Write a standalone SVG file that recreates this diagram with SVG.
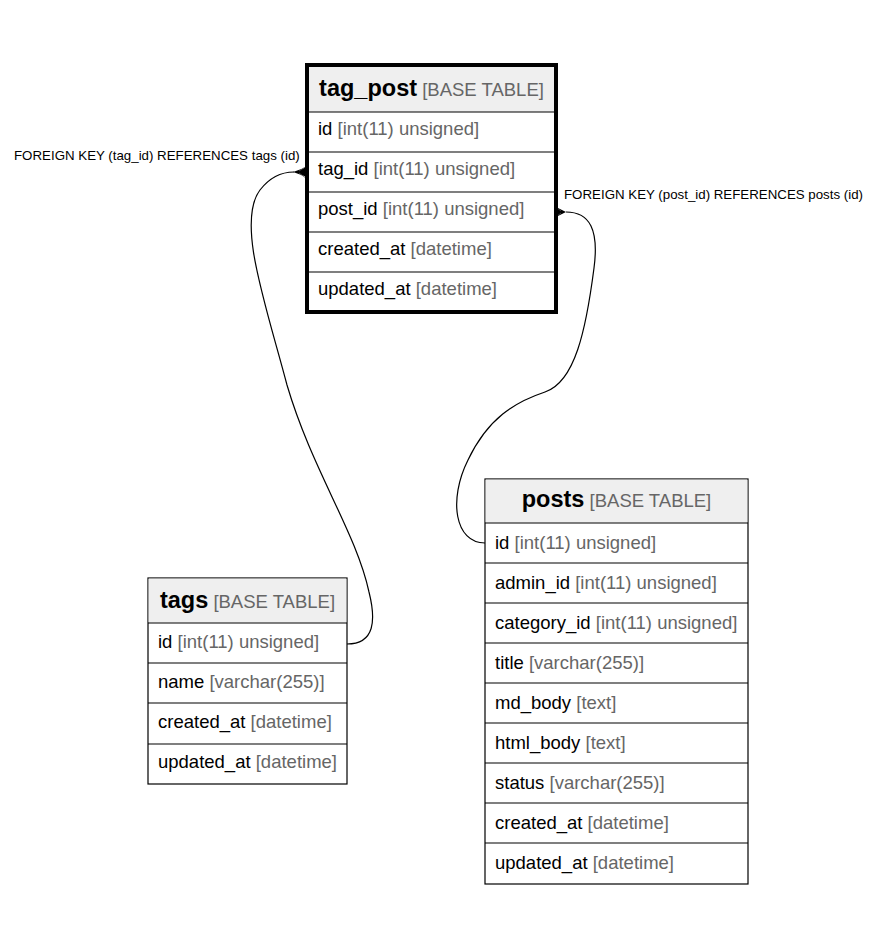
<svg xmlns="http://www.w3.org/2000/svg" width="877" height="947" viewBox="0 0 877 947">
  <style>
    .hdr { fill: #efefef; }
    .box { fill: #ffffff; stroke: #000000; stroke-width: 1.2; }
    .box-main { fill: none; stroke: #000000; stroke-width: 4; }
    .sep { stroke: #000000; stroke-width: 1.2; }
    .title { font-family: "Liberation Sans", Arial, sans-serif; font-size: 23.5px; font-weight: bold; fill: #000000; }
    .ttype { font-family: "Liberation Sans", Arial, sans-serif; font-size: 18.5px; font-weight: normal; fill: #666666; }
    .col { font-family: "Liberation Sans", Arial, sans-serif; font-size: 18.5px; fill: #000000; }
    .typ { fill: #666666; }
    .edge { fill: none; stroke: #000000; stroke-width: 1.2; }
    .crow { fill: #000000; stroke: none; }
    .toe { stroke: #555555; stroke-width: 0.8; fill: none; }
    .lbl { font-family: "Liberation Sans", Arial, sans-serif; font-size: 13.3px; fill: #000000; }
  </style>

  <rect width="877" height="947" fill="#ffffff"/>

  <!-- relationships -->
  <g id="connectors">
    <path class="edge" d="M347,644 C375,644 376,620 369,592 C356,532 312,470 287,385 C266,305 236,222 260,190 C270,177 282,172 294,172"/>
    <polygon class="crow" points="293,172 307,167 307,177"/>
    <path class="toe" d="M299,171 L310,164 M299,173 L310,181"/>
    <text class="lbl" x="14" y="160">FOREIGN KEY (tag_id) REFERENCES tags (id)</text>

    <path class="edge" d="M485,543 C455,543 448,500 468,460 C488,418 515,402 545,392 C575,382 586,330 594,268 C599,230 590,212 566,212"/>
    <polygon class="crow" points="566,212 556,207 556,217"/>
    <path class="toe" d="M561,211 L551,203 M561,213 L551,221"/>
    <text class="lbl" x="564" y="199">FOREIGN KEY (post_id) REFERENCES posts (id)</text>
  </g>

  <!-- tag_post table -->
  <g id="tag_post">
    <rect class="hdr" x="307" y="65" width="249" height="47"/>
    <rect x="307" y="112" width="249" height="200" fill="#ffffff"/>
    <line class="sep" x1="307" y1="112" x2="556" y2="112"/>
    <line class="sep" x1="307" y1="152" x2="556" y2="152"/>
    <line class="sep" x1="307" y1="192" x2="556" y2="192"/>
    <line class="sep" x1="307" y1="232" x2="556" y2="232"/>
    <line class="sep" x1="307" y1="272" x2="556" y2="272"/>
    <rect class="box-main" x="307" y="65" width="249" height="247"/>
    <text x="431.5" y="96" text-anchor="middle"><tspan class="title">tag_post</tspan><tspan class="ttype"> [BASE TABLE]</tspan></text>
    <text class="col" x="318" y="135">id <tspan class="typ">[int(11) unsigned]</tspan></text>
    <text class="col" x="318" y="175">tag_id <tspan class="typ">[int(11) unsigned]</tspan></text>
    <text class="col" x="318" y="215">post_id <tspan class="typ">[int(11) unsigned]</tspan></text>
    <text class="col" x="318" y="255">created_at <tspan class="typ">[datetime]</tspan></text>
    <text class="col" x="318" y="295">updated_at <tspan class="typ">[datetime]</tspan></text>
  </g>

  <!-- tags table -->
  <g id="tags">
    <rect class="box" x="148" y="578" width="199" height="206"/>
    <rect class="hdr" x="148.6" y="578.6" width="197.8" height="44"/>
    <line class="sep" x1="148" y1="623" x2="347" y2="623"/>
    <line class="sep" x1="148" y1="663" x2="347" y2="663"/>
    <line class="sep" x1="148" y1="703" x2="347" y2="703"/>
    <line class="sep" x1="148" y1="744" x2="347" y2="744"/>
    <text x="247.5" y="608" text-anchor="middle"><tspan class="title">tags</tspan><tspan class="ttype"> [BASE TABLE]</tspan></text>
    <text class="col" x="158" y="648">id <tspan class="typ">[int(11) unsigned]</tspan></text>
    <text class="col" x="158" y="688">name <tspan class="typ">[varchar(255)]</tspan></text>
    <text class="col" x="158" y="728">created_at <tspan class="typ">[datetime]</tspan></text>
    <text class="col" x="158" y="768">updated_at <tspan class="typ">[datetime]</tspan></text>
  </g>

  <!-- posts table -->
  <g id="posts">
    <rect class="box" x="485" y="479" width="263" height="405"/>
    <rect class="hdr" x="485.6" y="479.6" width="261.8" height="43"/>
    <line class="sep" x1="485" y1="523" x2="748" y2="523"/>
    <line class="sep" x1="485" y1="563" x2="748" y2="563"/>
    <line class="sep" x1="485" y1="603" x2="748" y2="603"/>
    <line class="sep" x1="485" y1="643" x2="748" y2="643"/>
    <line class="sep" x1="485" y1="683" x2="748" y2="683"/>
    <line class="sep" x1="485" y1="723" x2="748" y2="723"/>
    <line class="sep" x1="485" y1="763" x2="748" y2="763"/>
    <line class="sep" x1="485" y1="803" x2="748" y2="803"/>
    <line class="sep" x1="485" y1="843" x2="748" y2="843"/>
    <text x="616.5" y="507" text-anchor="middle"><tspan class="title">posts</tspan><tspan class="ttype"> [BASE TABLE]</tspan></text>
    <text class="col" x="495" y="549">id <tspan class="typ">[int(11) unsigned]</tspan></text>
    <text class="col" x="495" y="589">admin_id <tspan class="typ">[int(11) unsigned]</tspan></text>
    <text class="col" x="495" y="629">category_id <tspan class="typ">[int(11) unsigned]</tspan></text>
    <text class="col" x="495" y="669">title <tspan class="typ">[varchar(255)]</tspan></text>
    <text class="col" x="495" y="709">md_body <tspan class="typ">[text]</tspan></text>
    <text class="col" x="495" y="749">html_body <tspan class="typ">[text]</tspan></text>
    <text class="col" x="495" y="789">status <tspan class="typ">[varchar(255)]</tspan></text>
    <text class="col" x="495" y="829">created_at <tspan class="typ">[datetime]</tspan></text>
    <text class="col" x="495" y="869">updated_at <tspan class="typ">[datetime]</tspan></text>
  </g>
</svg>
